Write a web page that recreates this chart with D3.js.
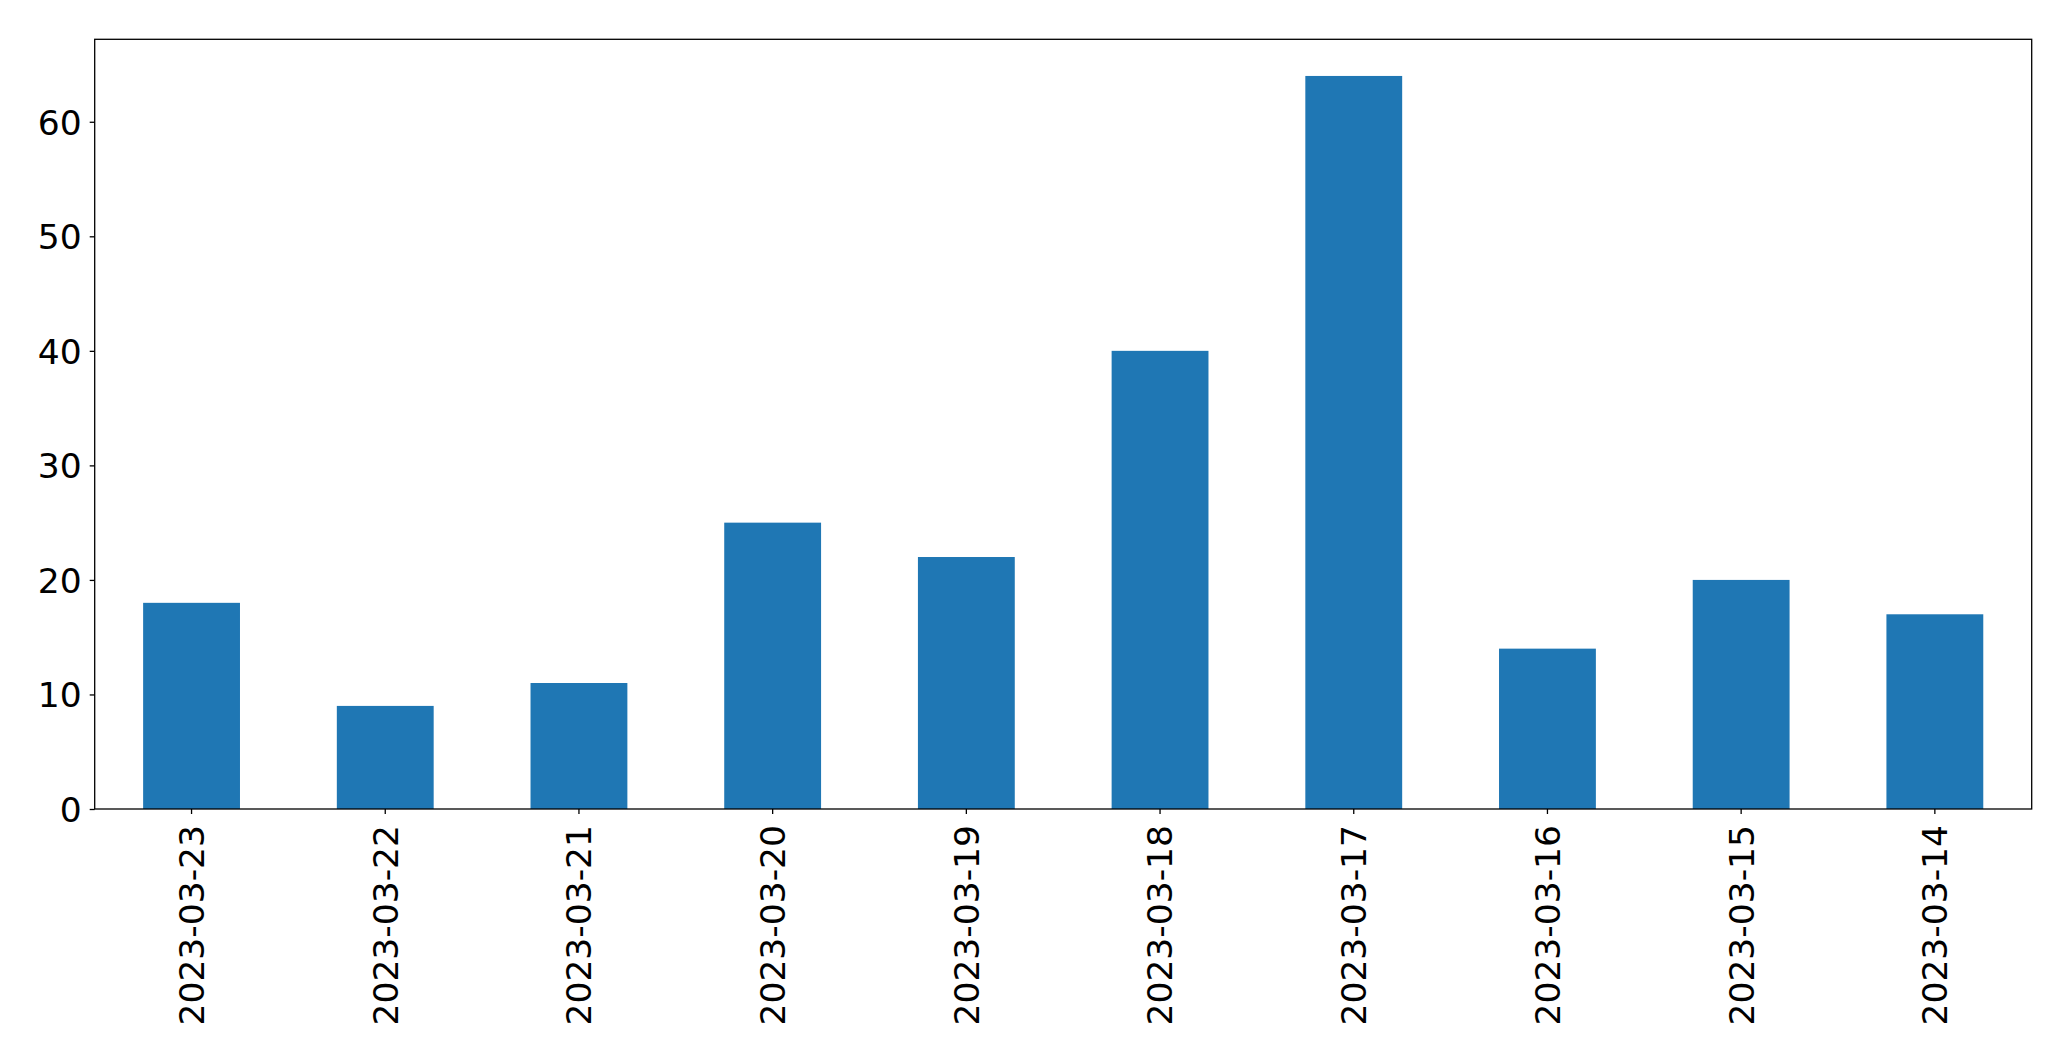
<!DOCTYPE html>
<html>
<head>
<meta charset="utf-8">
<script src="https://cdn.jsdelivr.net/npm/d3@7"></script>
<style>
  html, body { margin: 0; padding: 0; background: #fff; }
  svg { display: block; }
  text { font-family: "DejaVu Sans", sans-serif; fill: #000; }
</style>
</head>
<body>
<svg id="chart" width="2071" height="1061"></svg>
<script>
const categories = ["2023-03-23","2023-03-22","2023-03-21","2023-03-20","2023-03-19","2023-03-18","2023-03-17","2023-03-16","2023-03-15","2023-03-14"];
const values = [18, 9, 11, 25, 22, 40, 64, 14, 20, 17];
const yTicks = [0, 10, 20, 30, 40, 50, 60];

const margin = {left: 94.7, top: 39.3, right: 2071 - 2031.7, bottom: 1061 - 809};
const W = 2071, H = 1061;
const svg = d3.select("#chart");

const x = d3.scaleBand().domain(categories)
  .range([margin.left, W - margin.right]).paddingInner(0.5).paddingOuter(0.25);
const y = d3.scaleLinear().domain([0, d3.max(values) * 1.05])
  .range([H - margin.bottom, margin.top]);

svg.append("g").selectAll("rect").data(values).join("rect")
  .attr("x", (d, i) => x(categories[i]))
  .attr("y", d => y(d))
  .attr("width", x.bandwidth())
  .attr("height", d => y(0) - y(d))
  .attr("fill", "#1f77b4");

const fs = 34.5;
const yAxis = svg.append("g")
  .attr("transform", `translate(${margin.left},0)`)
  .call(d3.axisLeft(y).tickValues(yTicks).tickSize(5).tickPadding(8).tickFormat(d3.format("d")));
yAxis.select(".domain").remove();
yAxis.selectAll("text").style("font-size", fs + "px").attr("dy", "0.36em");
yAxis.selectAll("line").attr("stroke", "#000").attr("stroke-width", 1.3);

const xAxis = svg.append("g")
  .attr("transform", `translate(0,${H - margin.bottom})`)
  .call(d3.axisBottom(x).tickSize(5).tickPadding(0));
xAxis.select(".domain").remove();
xAxis.selectAll("line").attr("stroke", "#000").attr("stroke-width", 1.3);
xAxis.selectAll("text")
  .style("font-size", fs + "px")
  .attr("transform", "translate(0,16) rotate(-90)")
  .attr("text-anchor", "end")
  .attr("x", 0).attr("y", 0)
  .attr("dy", "0.36em");

svg.append("rect")
  .attr("x", margin.left).attr("y", margin.top)
  .attr("width", W - margin.right - margin.left)
  .attr("height", H - margin.bottom - margin.top)
  .attr("fill", "none").attr("stroke", "#000").attr("stroke-width", 1.3);
</script>
</body>
</html>
